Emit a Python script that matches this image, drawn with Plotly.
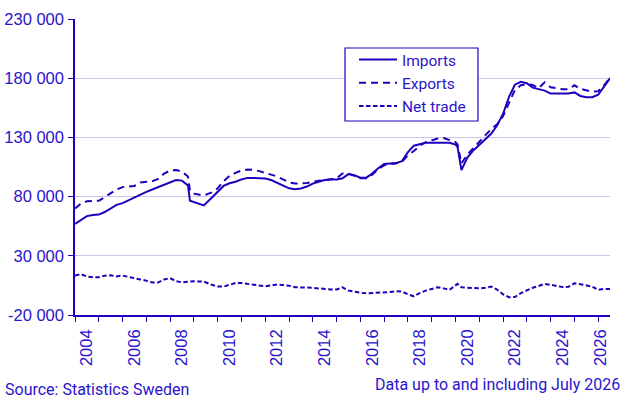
import plotly.graph_objects as go

# ---------------- data ----------------
months = [
    "2004-01", "2004-04", "2004-07", "2004-10",
    "2005-01", "2005-04", "2005-07", "2005-10",
    "2006-01", "2006-04", "2006-07", "2006-10",
    "2007-01", "2007-04", "2007-07", "2007-10",
    "2008-01", "2008-04", "2008-07", "2008-10", "2008-11",
    "2009-01", "2009-04", "2009-06", "2009-10",
    "2010-01", "2010-04", "2010-07", "2010-10",
    "2011-01", "2011-04", "2011-07", "2011-10",
    "2012-01", "2012-04", "2012-07", "2012-10",
    "2013-01", "2013-04", "2013-07", "2013-10",
    "2014-01", "2014-04", "2014-07", "2014-10",
    "2015-01", "2015-04", "2015-07", "2015-10",
    "2016-01", "2016-04", "2016-07", "2016-10",
    "2017-01", "2017-04", "2017-07", "2017-10",
    "2018-01", "2018-04", "2018-07", "2018-10",
    "2019-01", "2019-04", "2019-07", "2019-10",
    "2020-01", "2020-02", "2020-04", "2020-07", "2020-10",
    "2021-01", "2021-04", "2021-07", "2021-10",
    "2022-01", "2022-04", "2022-07", "2022-10",
    "2023-01", "2023-04", "2023-07", "2023-10",
    "2024-01", "2024-04", "2024-07", "2024-10",
    "2025-01", "2025-04", "2025-07", "2025-10",
    "2026-01", "2026-04", "2026-07",
]

imports = [
    57000, 60500, 63500, 64500,
    64800, 67000, 70000, 73000,
    74500, 77000, 79000, 82000,
    84000, 86000, 88000, 90000,
    92000, 94000, 93500, 89500, 76500,
    75500, 73500, 72600, 79000,
    84000, 89000, 91300, 92500,
    94500, 95800, 95800, 95600,
    95300, 94000, 91900, 89500,
    87000, 86200, 86800, 88500,
    91000, 92500, 94000, 94400,
    94400, 95500, 99000, 98000,
    96000, 96000, 99500, 104000,
    107500, 108000, 108300, 110000,
    117500, 123000, 124500, 125500,
    125500, 125500, 125500, 125500,
    124000, 122000, 102300, 113000, 119000,
    124000, 128500, 133000, 140000,
    150000, 164000, 174500, 177000,
    175700, 172000, 170700, 169500,
    167000, 167000, 167000, 167000,
    168000, 165000, 163900, 163900,
    166000, 173000, 180000,
]

exports = [
    70000, 74000, 76000, 76000,
    76500, 79500, 83000, 86000,
    88000, 88700, 89000, 91900,
    92500, 93000, 95000, 99500,
    102000, 102500, 101000, 97000, 85000,
    82500, 81500, 81000, 83500,
    87000, 93000, 97500, 100000,
    102000, 102900, 102600, 101500,
    100000, 98500, 97000, 94500,
    92000, 91000, 91000, 91500,
    92400, 93500, 93800, 94500,
    95500, 99500, 99500, 97500,
    95500, 95500, 98500, 103000,
    106500, 107500, 108000, 109500,
    115000, 118500, 123000, 126000,
    127500, 129000, 129500, 127500,
    126000, 124000, 108000, 115500, 121000,
    126000, 131000, 137000, 141000,
    148000, 159000, 170000, 174000,
    175000, 174300, 171500, 176500,
    172400, 171500, 170700, 170700,
    174000, 171000, 169500, 168600,
    169000, 174000, 180500,
]

net_trade = [
    13300, 14500, 12600, 11800,
    11800, 13200, 13500, 12600,
    13300, 12000, 11000, 10000,
    9000, 7500, 7400, 10000,
    11200, 8500, 7600, 8000, 8300,
    8500, 8300, 8200, 5500,
    4000, 4000, 5500, 7000,
    7000, 6300, 6000, 5200,
    4200, 5000, 5700, 5300,
    4800, 3400, 3600, 3200,
    2900, 2300, 1700, 1600,
    1500, 3400, 700, -500,
    -1200, -1700, -1500, -1200,
    -1000, -600, 0, -200,
    -2500, -4200, -1500, 600,
    2000, 3400, 2500, 1200,
    5000, 6300, 3400, 3000, 2500,
    2500, 3000, 4000, 1500,
    -2500, -5000, -4800, -1500,
    1000, 3000, 4500, 6300,
    5500, 4600, 3600, 3800,
    6800, 6000, 4800, 4000,
    1200, 2000, 2000,
]

y_tick_values = [-20000, 30000, 80000, 130000, 180000, 230000]
y_tick_labels = ["-20 000", "30 000", "80 000", "130 000", "180 000", "230 000"]

x_label_years = ["2004", "2006", "2008", "2010", "2012", "2014",
                 "2016", "2018", "2020", "2022", "2024", "2026"]
x_label_dates = ["2004-07-01", "2006-07-01", "2008-07-01", "2010-07-01",
                 "2012-07-01", "2014-07-01", "2016-07-01", "2018-07-01",
                 "2020-07-01", "2022-07-01", "2024-07-01", "2026-02-10"]
year_starts = [f"{y}-01-01" for y in range(2004, 2027)]

# ---------------- styling ----------------
BLUE = "#1E00BE"
TEXT = "#2A14CC"
GRID = "#C9C5EF"
TICK_FONT = dict(family="Liberation Sans, Arial, sans-serif", size=16.5, color=TEXT)
FOOT_FONT = dict(family="Roboto, sans-serif", size=16, color=TEXT)
LEGEND_FONT = dict(family="Roboto, sans-serif", size=15.5, color=TEXT)

FIG_W, FIG_H = 643, 408
PL, PR, PT, PB = 75, 610, 19, 315          # plot area in pixels
PW, PH = PR - PL, PB - PT


def px_x(x):
    return (x - PL) / PW


def px_y(y):
    return (PB - y) / PH


fig = go.Figure()
fig.add_trace(go.Scatter(x=months, y=imports, name="Imports", mode="lines",
                         line=dict(color=BLUE, width=2)))
fig.add_trace(go.Scatter(x=months, y=exports, name="Exports", mode="lines",
                         line=dict(color=BLUE, width=2, dash="7px,5px")))
fig.add_trace(go.Scatter(x=months, y=net_trade, name="Net trade", mode="lines",
                         line=dict(color=BLUE, width=2, dash="4.5px,2.5px")))

fig.update_layout(
    width=FIG_W, height=FIG_H,
    margin=dict(l=PL, r=FIG_W - PR, t=PT, b=FIG_H - PB, autoexpand=False),
    paper_bgcolor="white", plot_bgcolor="white",
    showlegend=True,
    legend=dict(
        x=px_x(340), y=px_y(43), xanchor="left", yanchor="top",
        bgcolor="rgba(0,0,0,0)", borderwidth=0, itemwidth=38,
        font=LEGEND_FONT, indentation=14, tracegroupgap=0,
    ),
    shapes=[
        dict(type="rect", xref="paper", yref="paper", layer="above",
             x0=px_x(345), x1=px_x(478), y0=px_y(121), y1=px_y(48),
             line=dict(color=BLUE, width=1.2), fillcolor="white"),
    ],
    xaxis=dict(
        type="date", automargin=False,
        range=["2004-01-01", "2026-07-01"],
        tickmode="array", tickvals=x_label_dates, ticktext=x_label_years,
        tickangle=-90, ticks="", tickfont=TICK_FONT,
        showgrid=False, zeroline=False,
        showline=True, linecolor=BLUE, linewidth=1.5,
        minor=dict(tickmode="array", tickvals=year_starts, ticks="outside",
                   ticklen=5, tickcolor=BLUE, tickwidth=1.3, showgrid=False),
        ticklabelstandoff=6,
    ),
    yaxis=dict(
        automargin=False,
        range=[-20000, 230000],
        tickmode="array", tickvals=y_tick_values, ticktext=y_tick_labels,
        tickfont=TICK_FONT, ticks="outside", ticklen=5, tickcolor=BLUE, tickwidth=1.3,
        showgrid=True, gridcolor=GRID, gridwidth=1.3,
        zeroline=False, showline=True, linecolor=BLUE, linewidth=1.5,
        ticklabelstandoff=1,
    ),
    annotations=[
        dict(text="Source: Statistics Sweden", xref="paper", yref="paper",
             x=px_x(3), y=px_y(389), xanchor="left", yanchor="middle",
             showarrow=False, font=FOOT_FONT),
        dict(text="Data up to and including July 2026", xref="paper", yref="paper",
             x=px_x(622), y=px_y(384), xanchor="right", yanchor="middle",
             showarrow=False, font=FOOT_FONT),
    ],
)

# remove the browser's default 8 px body margin so the figure fills the window
fig.write_html("out.html", config={"displayModeBar": False},
               post_script="document.body.style.margin='0';")
